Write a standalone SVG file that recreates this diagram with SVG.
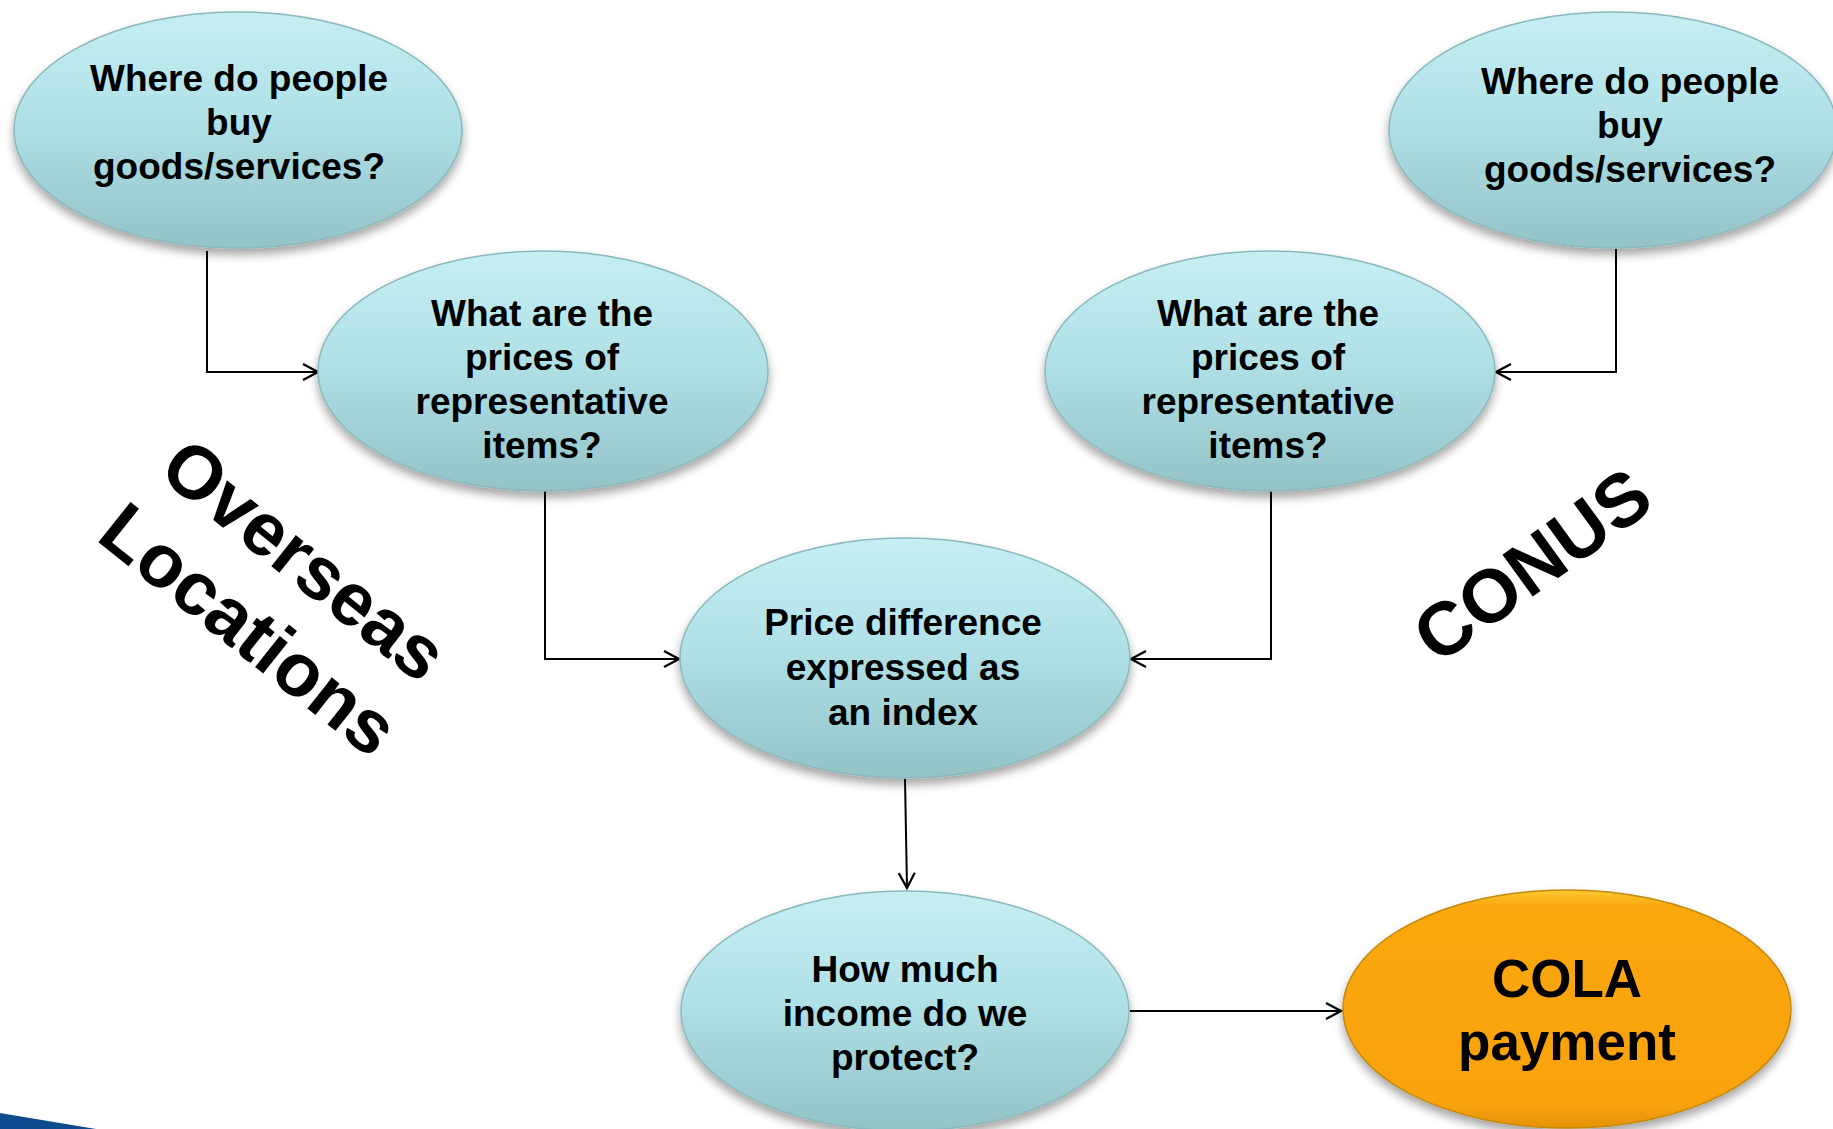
<svg xmlns="http://www.w3.org/2000/svg" width="1833" height="1129" viewBox="0 0 1833 1129">
<style>
.node text{font-family:"Liberation Sans",Arial,sans-serif;font-weight:bold;font-size:37px;fill:#000;text-anchor:middle}
.teal{fill:url(#tealGrad);stroke:#8ab8bd;stroke-width:1.5;filter:url(#shadow)}
.orange{fill:url(#orangeGrad);stroke:#c4880f;stroke-width:1.5;filter:url(#shadow)}
.big{font-family:"Liberation Sans",Arial,sans-serif;font-weight:bold;font-size:75px;fill:#000;text-anchor:middle}
.conn path{fill:none;stroke:#000;stroke-width:2;marker-end:url(#arrow)}
</style>
<defs>
<linearGradient id="tealGrad" x1="0" y1="0" x2="0" y2="1">
<stop offset="0" stop-color="#c6eff4"/>
<stop offset="0.45" stop-color="#b0e1e7"/>
<stop offset="1" stop-color="#93c3c7"/>
</linearGradient>
<linearGradient id="orangeGrad" x1="0" y1="0" x2="0" y2="1">
<stop offset="0" stop-color="#fcc933"/>
<stop offset="0.07" stop-color="#fba70d"/>
<stop offset="0.9" stop-color="#f9a209"/>
<stop offset="1" stop-color="#e59306"/>
</linearGradient>
<filter id="shadow" x="-10%" y="-10%" width="120%" height="130%">
<feGaussianBlur in="SourceAlpha" stdDeviation="5"/>
<feOffset dy="6" result="b"/>
<feFlood flood-color="#000" flood-opacity="0.35"/>
<feComposite in2="b" operator="in"/>
<feMerge><feMergeNode/><feMergeNode in="SourceGraphic"/></feMerge>
</filter>
<marker id="arrow" viewBox="0 0 20 20" refX="18" refY="10" markerWidth="20" markerHeight="20" markerUnits="userSpaceOnUse" orient="auto">
<path d="M3,2 L18,10 L3,18" fill="none" stroke="#000" stroke-width="2.2"/>
</marker>
</defs>
<rect width="1833" height="1129" fill="#fff"/>
<polygon points="0,1113 96,1129 0,1129" fill="#0d4a8e"/>

<g class="conn">
<path d="M207,251 V372 H318"/>
<path d="M545,491 V659 H679"/>
<path d="M1616,249 V372 H1496"/>
<path d="M1271,491 V659 H1131"/>
<path d="M905,779 L907,888"/>
<path d="M1130,1011 H1341"/>
</g>

<g id="n1" class="node">
<ellipse class="teal" cx="238" cy="130" rx="224" ry="118"/>
<text x="239" y="91">Where do people</text>
<text x="239" y="135">buy</text>
<text x="239" y="179">goods/services?</text>
</g>
<g id="n2" class="node">
<ellipse class="teal" cx="543" cy="371" rx="225" ry="120"/>
<text x="542" y="326">What are the</text>
<text x="542" y="370">prices of</text>
<text x="542" y="414">representative</text>
<text x="542" y="458">items?</text>
</g>
<g id="n3" class="node">
<ellipse class="teal" cx="1613" cy="130" rx="224" ry="118"/>
<text x="1630" y="94">Where do people</text>
<text x="1630" y="138">buy</text>
<text x="1630" y="182">goods/services?</text>
</g>
<g id="n4" class="node">
<ellipse class="teal" cx="1270" cy="371" rx="225" ry="120"/>
<text x="1268" y="326">What are the</text>
<text x="1268" y="370">prices of</text>
<text x="1268" y="414">representative</text>
<text x="1268" y="458">items?</text>
</g>
<g id="n5" class="node">
<ellipse class="teal" cx="905" cy="658" rx="225" ry="120"/>
<text x="903" y="635">Price difference</text>
<text x="903" y="680">expressed as</text>
<text x="903" y="725">an index</text>
</g>
<g id="n6" class="node">
<ellipse class="teal" cx="905" cy="1011" rx="224" ry="120"/>
<text x="905" y="982">How much</text>
<text x="905" y="1026">income do we</text>
<text x="905" y="1070">protect?</text>
</g>
<g id="n7" class="node">
<ellipse class="orange" cx="1567" cy="1009" rx="224" ry="119"/>
<text x="1567" y="997" style="font-size:53px">COLA</text>
<text x="1567" y="1060" style="font-size:53px">payment</text>
</g>

<g id="overseas" transform="translate(272,591) rotate(38.5)">
<text class="big" x="6" y="-19">Overseas</text>
<text class="big" x="6" y="70">Locations</text>
</g>
<g id="conus" transform="translate(1532,565) rotate(-36)">
<text class="big" x="0" y="26">CONUS</text>
</g>
</svg>
